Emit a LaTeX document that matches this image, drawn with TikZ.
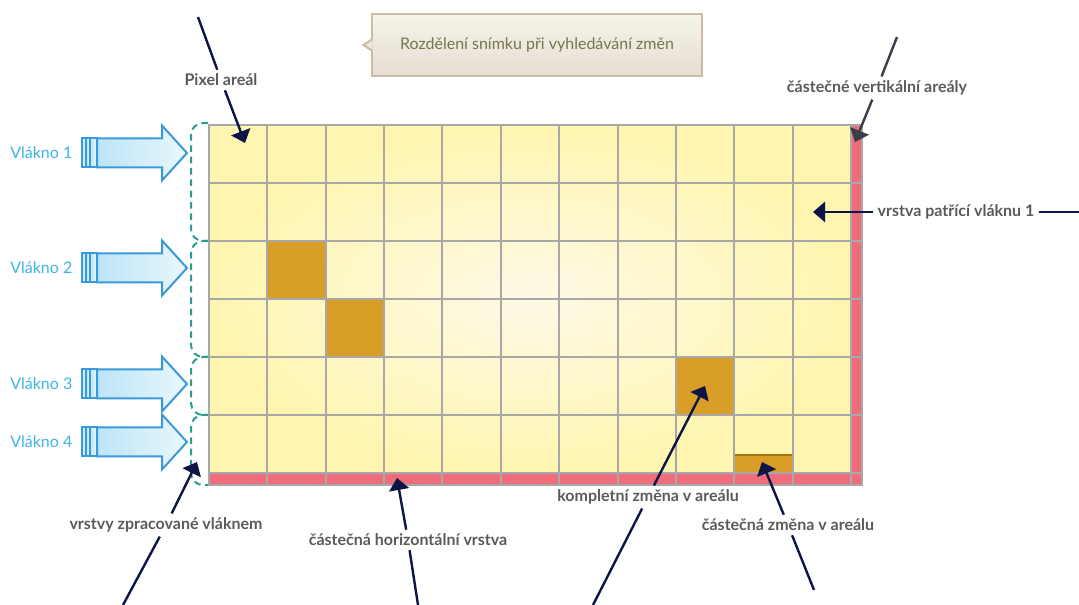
\documentclass[tikz,border=0pt]{standalone}
\usepackage{fontspec}
\setmainfont{Lato}
\usepackage{xcolor}
\usetikzlibrary{arrows.meta, positioning}

\definecolor{cellout}{HTML}{FFF5B0}
\definecolor{cellmid}{HTML}{FDF9E6}
\definecolor{chgfill}{HTML}{D89E28}
\definecolor{chgedge}{HTML}{A8740F}
\definecolor{edgered}{HTML}{EF6C7C}
\definecolor{gridgray}{HTML}{A8A8A8}
\definecolor{annnavy}{HTML}{0D1446}
\definecolor{anngray}{HTML}{3A3E4A}
\definecolor{lblgray}{HTML}{5A5A5A}
\definecolor{thrblue}{HTML}{3A9AD9}
\definecolor{thrtext}{HTML}{3CB2E8}
\definecolor{thrleft}{HTML}{BCE5F7}
\definecolor{thrright}{HTML}{EAF7FC}
\definecolor{bracegreen}{HTML}{2A9D8F}
\definecolor{titletop}{HTML}{F5F5EA}
\definecolor{titlebot}{HTML}{E6DCD3}
\definecolor{titleedge}{HTML}{CDBBA2}
\definecolor{titletext}{HTML}{76764A}

\begin{document}
\begin{tikzpicture}[
  x=0.75pt, y=-0.75pt,
  lbl/.style      = {font=\fontsize{12}{14}\selectfont\bfseries, text=lblgray, inner sep=3pt},
  thrlbl/.style   = {font=\fontsize{12}{14}\selectfont, text=thrtext, inner sep=0pt, anchor=west},
  thrarr/.style   = {draw=thrblue, line width=1.5pt, left color=thrleft, right color=thrright},
  gridln/.style   = {draw=gridgray, line width=1.5pt},
  chg/.style      = {fill=chgfill},
  bracket/.style  = {draw=bracegreen, line width=1.5pt, dash pattern=on 5pt off 3.5pt,
                     rounded corners=9pt},
  ann/.style      = {draw=annnavy, line width=1.8pt},
  annarr/.style   = {ann, -{Triangle[length=9pt, width=15pt]}},
  titlebox/.style = {draw=titleedge, line width=1.5pt, top color=titletop, bottom color=titlebot,
                     minimum width=247pt, minimum height=47pt, inner sep=0pt,
                     font=\fontsize{12}{14}\selectfont, text=titletext}
]
\useasboundingbox (0,0) rectangle (1079,605);

% ── Title ─────────────────────────────────────────────────────────────────────
\node[titlebox] (title) at (537,45) {Rozdělení snímku při vyhledávání změn};
\draw[titleedge, line width=1.5pt, fill=titletop!50!titlebot]
  ([xshift=1pt, yshift=4.5pt]title.west) -- ([xshift=-6pt]title.west)
  -- ([xshift=1pt, yshift=-4.5pt]title.west);

% ── Cells ─────────────────────────────────────────────────────────────────────
\shade[inner color=cellmid, outer color=cellout] (209,125) rectangle (851,473);
\foreach \c/\r in {1/2, 2/3, 8/4}
  \fill[chg] ({209+58.36*\c},{125+58*\r}) rectangle ({209+58.36*(\c+1)},{125+58*(\r+1)});
\fill[chg] ({209+58.36*9},455) rectangle ({209+58.36*10},473);
\draw[chgedge, line width=1.5pt] ({209+58.36*9},455.5) -- ({209+58.36*10},455.5);

% ── Partial edges ─────────────────────────────────────────────────────────────
\fill[edgered] (851,125) rectangle (862,485);
\fill[edgered] (209,473) rectangle (862,485);

% ── Grid ──────────────────────────────────────────────────────────────────────
\foreach \i in {1,...,11}
  \draw[gridln] ({209+58.36*\i},125) -- ({209+58.36*\i},485);
\foreach \j in {1,...,6}
  \draw[gridln] (209,{125+58*\j}) -- (862,{125+58*\j});
\draw[gridln] (209,125) rectangle (862,485);

% ── Thread brackets ───────────────────────────────────────────────────────────
\foreach \top/\bot in {123/241, 241/357, 357/415, 415/485}
  \draw[bracket] (208,\top) -- (191,\top) -- (191,\bot) -- (208,\bot);

% ── Threads ───────────────────────────────────────────────────────────────────
\foreach \y/\n in {153/1, 268/2, 384/3, 442/4} {
  \node[thrlbl] (vl\n) at (10,\y) {Vlákno \n};
  \draw[thrarr] (97,\y-14.5) -- (162,\y-14.5) -- (162,\y-27.5) -- (187,\y)
    -- (162,\y+27.5) -- (162,\y+14.5) -- (97,\y+14.5) -- cycle;
  \draw[thrarr] (82,\y-14.5) rectangle (86,\y+14.5);
  \draw[thrarr] (86,\y-14.5) rectangle (90,\y+14.5);
  \draw[thrarr] (90,\y-14.5) rectangle (97,\y+14.5);
}

% ── Labels ────────────────────────────────────────────────────────────────────
\node[lbl] (pix)   at (221,80)  {Pixel areál};
\node[lbl] (vert)  at (877,88)  {částečné vertikální areály};
\node[lbl] (lay1)  at (956,212) {vrstva patřící vláknu 1};
\node[lbl] (lays)  at (166,525) {vrstvy zpracované vláknem};
\node[lbl] (horiz) at (408,540) {částečná horizontální vrstva};
\node[lbl] (full)  at (648,497) {kompletní změna v areálu};
\node[lbl] (part)  at (788,525) {částečná změna v areálu};

% ── Free ends and targets ─────────────────────────────────────────────────────
\coordinate (pixfar)   at (198,17);   \coordinate (pixtgt)   at (245,143);
\coordinate (vertfar)  at (897,37);   \coordinate (verttgt)  at (855,142);
\coordinate (lay1far)  at (1079,212); \coordinate (lay1tgt)  at (813,212);
\coordinate (laysfar)  at (123,605);  \coordinate (laystgt)  at (197,462);
\coordinate (horizfar) at (418,605);  \coordinate (horiztgt) at (397,478);
\coordinate (fullfar)  at (593,605);  \coordinate (fulltgt)  at (705,386);
\coordinate (partfar)  at (814,590);  \coordinate (parttgt)  at (762,462);

% ── Annotation lines ──────────────────────────────────────────────────────────
\draw[ann]    (pixfar) -- (pix);
\draw[annarr] (pix) -- (pixtgt);
\draw[ann, draw=anngray]    (vertfar) -- (vert);
\draw[annarr, draw=anngray] (vert) -- (verttgt);
\draw[ann]    (lay1far) -- (lay1);
\draw[annarr] (lay1) -- (lay1tgt);
\draw[ann]    (laysfar) -- (lays);
\draw[annarr] (lays) -- (laystgt);
\draw[ann]    (horizfar) -- (horiz);
\draw[annarr] (horiz) -- (horiztgt);
\draw[ann]    (fullfar) -- (full);
\draw[annarr] (full) -- (fulltgt);
\draw[ann]    (partfar) -- (part);
\draw[annarr] (part) -- (parttgt);
\end{tikzpicture}
\end{document}
